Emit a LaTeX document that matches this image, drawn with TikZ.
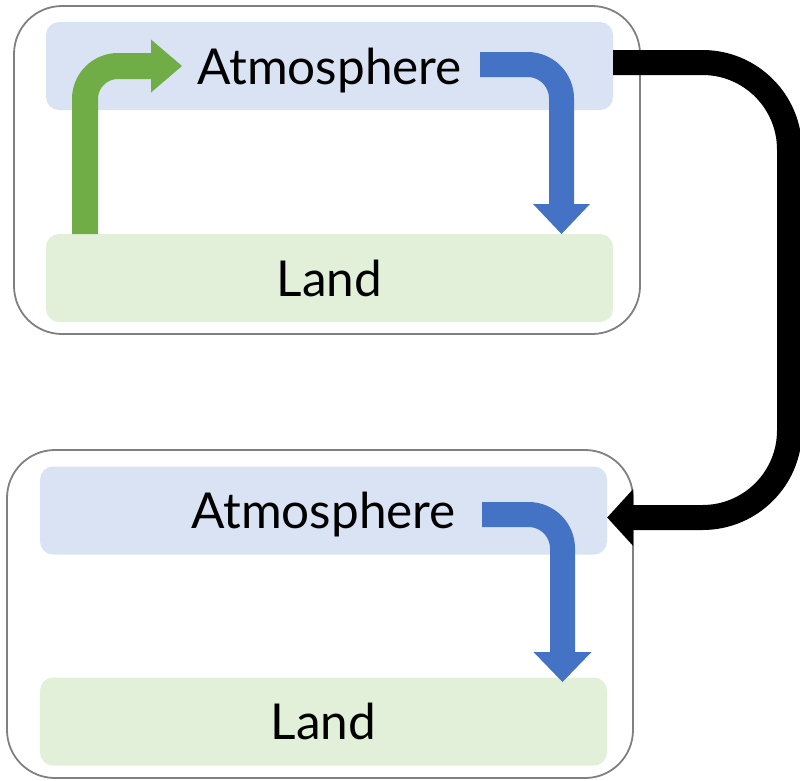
\documentclass[tikz,border=0pt]{standalone}
\usepackage{fontspec}
\setmainfont{Lato}
\usetikzlibrary{arrows.meta}
\definecolor{atmfill}{HTML}{DAE3F3}
\definecolor{landfill}{HTML}{E2F0D9}
\definecolor{framegray}{HTML}{808080}
\definecolor{flowgreen}{HTML}{70AD47}
\definecolor{flowblue}{HTML}{4472C4}
\begin{document}
\begin{tikzpicture}[x=1pt,y=-1pt,
  frame/.style={draw=framegray, line width=1.8pt, rounded corners=48pt, minimum width=626pt, minimum height=328pt, inner sep=0pt},
  layer/.style={rounded corners=13pt, minimum width=567pt, minimum height=88pt, inner sep=0pt, text height=36pt, text depth=0pt, font=\fontsize{49.5}{59}\selectfont},
  atm/.style={layer, fill=atmfill},
  land/.style={layer, fill=landfill},
  flow/.style={line width=25pt, rounded corners=34pt},
]
\useasboundingbox (0,0) rectangle (800,780);
\clip (0,0) rectangle (800,780);
\node[frame] (tframe) at (327,170) {};
\node[frame] (bframe) at (320,614) {};
\node[atm] (tatm) at (329.5,66) {Atmosphere};
\node[land] (tland) at (329.5,278) {Land};
\node[atm] (batm) at (323.5,510.5) {Atmosphere};
\node[land] (bland) at (323.5,721.5) {Land};
% green: land -> atmosphere (top)
\coordinate (gstart) at (85,234);
\coordinate (gend) at (182,66);
\draw[flow, flowgreen, line width=26pt, rounded corners=33pt, -{Triangle[length=31pt,width=53pt,line width=0pt]}]
  (gstart) -- (gstart |- gend) -- (gend);
% blue: atmosphere -> land (top)
\coordinate (tbstart) at (480,64.5);
\coordinate (tbend) at (561.5,234);
\draw[flow, flowblue, -{Triangle[length=30pt,width=57pt,line width=0pt]}]
  (tbstart) -- (tbstart -| tbend) -- (tbend);
% blue: atmosphere -> land (bottom)
\coordinate (bbstart) at (482,514.5);
\coordinate (bbend) at (562.5,682);
\draw[flow, flowblue, -{Triangle[length=30pt,width=58pt,line width=0pt]}]
  (bbstart) -- (bbstart -| bbend) -- (bbend);
% black: top atmosphere -> bottom atmosphere
\coordinate (kbendtop) at (789.5,62.5);
\coordinate (kbendbot) at (789.5,517.5);
\draw[flow, black, rounded corners=87pt, -{Triangle[length=26pt,width=57pt,line width=0pt]}]
  ([yshift=3.5pt]tatm.east) -- (kbendtop) -- (kbendbot) -- ([yshift=-7pt]batm.east);
\end{tikzpicture}
\end{document}
